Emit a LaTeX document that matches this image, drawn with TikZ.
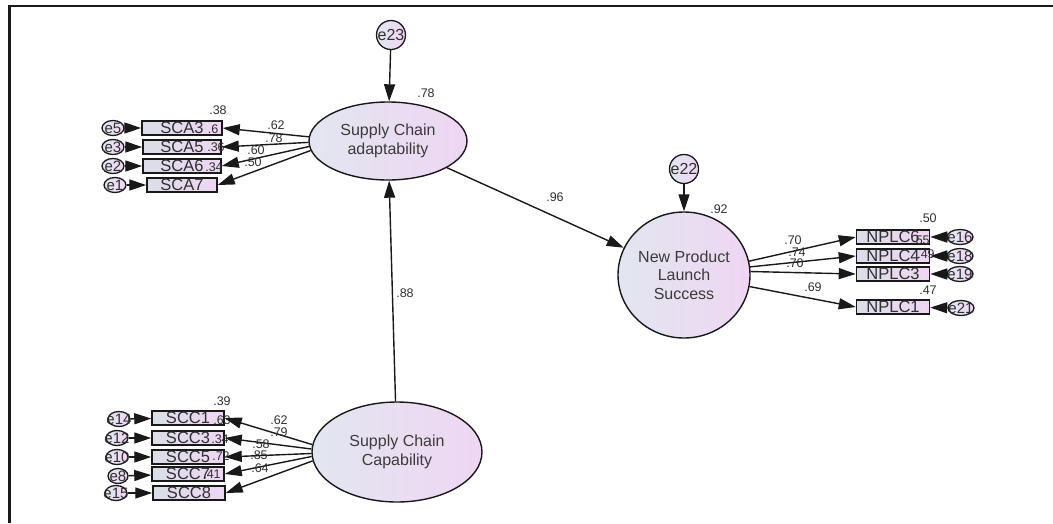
\documentclass[tikz,border=0pt]{standalone}
\usepackage{fontspec}
\setmainfont{Liberation Sans}
\usetikzlibrary{arrows.meta, calc, shapes.geometric}
\definecolor{shadeL}{RGB}{226,230,240}
\definecolor{shadeR}{RGB}{239,214,243}
\definecolor{ink}{RGB}{25,25,25}
\tikzset{
  lat/.style={ellipse, draw=ink, line width=1.4pt, left color=shadeL, right color=shadeR, inner sep=0pt, align=center, text=ink!85, font=\fontsize{16}{18.5}\selectfont},
  obs/.style={draw=ink, line width=1.5pt, left color=shadeL!92!gray, right color=shadeR, minimum width=#1, minimum height=14pt, inner sep=0pt, text=ink!90, font=\fontsize{16.5}{16.5}\selectfont},
  obs/.default=78pt,
  err/.style={ellipse, draw=ink, line width=1.3pt, left color=shadeL, right color=shadeR, minimum width=#1, minimum height=15pt, inner sep=0pt, text=ink!90, font=\fontsize{15}{15}\selectfont,
    execute at begin node={\hbox to 0pt\bgroup\hss}, execute at end node={\hss\egroup}},
  err/.default=22pt,
  res/.style={circle, draw=ink, line width=1.3pt, left color=shadeL, right color=shadeR, minimum size=29pt, inner sep=0pt, text=ink!90, font=\fontsize{16}{16}\selectfont,
    execute at begin node={\hbox to 0pt\bgroup\hss}, execute at end node={\hss\egroup}},
  arr/.style={-{Triangle[length=17pt, width=11pt]}, draw=ink, line width=1.4pt},
  num/.style={inner sep=0pt, text=ink!90, font=\fontsize{12.5}{12.5}\selectfont},
}
\begin{document}
\begin{tikzpicture}[x=1pt, y=-1pt]
    \useasboundingbox (0,0) rectangle (1053,523);
    \draw[ink, line width=2.5pt] (1053,6) -- (9.5,6) -- (9.5,523);

    \node[lat, minimum width=158pt, minimum height=78pt] (sca) at (388,141) {Supply Chain\\adaptability};
    \node[lat, minimum width=170pt, minimum height=100pt] (scc) at (397,452) {Supply Chain\\Capability};
    \node[lat, minimum width=132pt, minimum height=126pt] (npls) at (684,275) {New Product\\Launch\\Success};
    \node[res] (e23) at (391,35) {e23};
    \node[res] (e22) at (684,169) {e22};

    \node[obs=80pt] (sca3) at (182,128) {SCA3};
    \node[obs] (sca5) at (182,147) {SCA5};
    \node[obs] (sca6) at (182,166) {SCA6};
    \node[obs=70pt] (sca7) at (182,185) {SCA7};
    \node[err] (e5) at (113,128) {e5};
    \node[err] (e3) at (113,147) {e3};
    \node[err] (e2) at (113,166) {e2};
    \node[err] (e1) at (115,185) {e1};

    \node[obs=72pt] (scc1) at (188,418) {SCC1};
    \node[obs=72pt] (scc3) at (188,438) {SCC3};
    \node[obs=72pt] (scc5) at (188,457) {SCC5};
    \node[obs=72pt] (scc7) at (188,474) {SCC7};
    \node[obs=72pt] (scc8) at (189,493) {SCC8};
    \node[err] (e14) at (119,419) {e14};
    \node[err] (e12) at (117,438) {e12};
    \node[err] (e10) at (117,457) {e10};
    \node[err=20pt] (e8) at (118,476) {e8};
    \node[err] (e15) at (116,493) {e15};

    \node[obs=73pt] (nplc6) at (893,237) {NPLC6};
    \node[obs=73pt] (nplc4) at (893,256) {NPLC4};
    \node[obs=73pt] (nplc3) at (893,274) {NPLC3};
    \node[obs=73pt] (nplc1) at (893,307) {NPLC1};
    \node[err=26pt] (e16) at (960,237) {e16};
    \node[err=26pt] (e18) at (960,256) {e18};
    \node[err=26pt] (e19) at (960,274) {e19};
    \node[err=26pt] (e21) at (961,308) {e21};

    \node[num] (r-sca5) at (213,129) {.6};
    \node[num] (r-sca6) at (216,147) {.36};
    \node[num] (r-sca7) at (214,167) {.34};
    \node[num] (r-scc3) at (222,420) {.63};
    \node[num] (r-scc5) at (220,439) {.34};
    \node[num] (r-scc7) at (221,456) {.72};
    \node[num] (r-scc8) at (212,474) {.41};
    \node[num] (r-nplc4) at (921,240) {.55};
    \node[num] (r-nplc3) at (926,254) {.49};

    \draw[arr] (e23) -- (sca);
    \draw[arr] (e22) -- (npls);
    \draw[arr] (sca) -- (npls);
    \draw[arr] (scc) -- (sca);

    \draw[arr] (sca.177) -- (sca3.east);
    \draw[arr] (sca.181) -- (sca5.east);
    \draw[arr] (sca.184) -- (sca6.east);
    \draw[arr] (sca.187) -- (sca7.east);
    \draw[arr] (e5) -- (sca3);
    \draw[arr] (e3) -- (sca5);
    \draw[arr] (e2) -- (sca6);
    \draw[arr] (e1) -- (sca7);

    \draw[arr] (scc.175) -- (scc1.east);
    \draw[arr] (scc.178) -- (scc3.east);
    \draw[arr] (scc.181) -- (scc5.east);
    \draw[arr] (scc.183.5) -- (scc7.east);
    \draw[arr] (scc.186) -- (scc8.east);
    \draw[arr] (e14) -- (scc1);
    \draw[arr] (e12) -- (scc3);
    \draw[arr] (e10) -- (scc5);
    \draw[arr] (e8) -- (scc7);
    \draw[arr] (e15) -- (scc8);

    \draw[arr] (npls.12) -- (nplc6.west);
    \draw[arr] (npls.7) -- (nplc4.west);
    \draw[arr] (npls.3.5) -- (nplc3.west);
    \draw[arr] (npls.-10) -- (nplc1.west);
    \draw[arr] (e16) -- (nplc6);
    \draw[arr] (e18) -- (nplc4);
    \draw[arr] (e19) -- (nplc3);
    \draw[arr] (e21) -- (nplc1);

    \node[num] (r-sca) at (426,93) {.78};
    \node[num] (r-npls) at (719,209) {.92};
    \node[num] (w-scc-sca) at (405,293) {.88};
    \node[num] (w-sca-npls) at (555,197) {.96};

    \node[num] (r-sca3) at (218,110) {.38};
    \node[num] (l-sca3) at (276,125) {.62};
    \node[num] (l-sca5) at (274,138) {.78};
    \node[num] (l-sca6) at (256,150) {.60};
    \node[num] (l-sca7) at (253,162) {.50};

    \node[num] (r-scc1) at (222,401) {.39};
    \node[num] (l-scc1) at (279,420) {.62};
    \node[num] (l-scc3) at (279,432) {.79};
    \node[num] (l-scc5) at (261,444) {.58};
    \node[num] (l-scc7) at (259,455) {.85};
    \node[num] (l-scc8) at (260,468) {.64};

    \node[num] (r-nplc6) at (928,218) {.50};
    \node[num] (l-nplc6) at (793,240) {.70};
    \node[num] (l-nplc4) at (797,252) {.74};
    \node[num] (l-nplc3) at (795,263) {.70};
    \node[num] (l-nplc1) at (813,287) {.69};
    \node[num] (r-nplc1) at (928,290) {.47};
  \end{tikzpicture}
\end{document}
